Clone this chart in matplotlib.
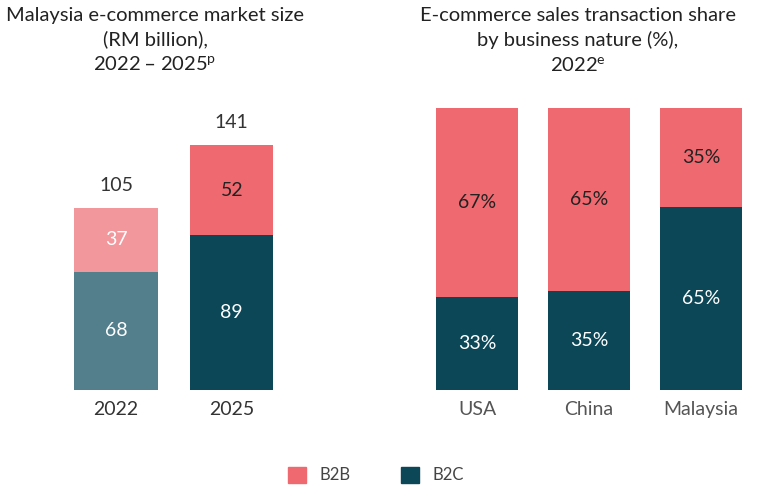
import numpy as np
import matplotlib
matplotlib.use("Agg")
import matplotlib.pyplot as plt
from matplotlib.patches import Patch

plt.rcParams['font.family'] = ['Lato', 'DejaVu Sans']

# left panel: market size (RM billion)
years = ["2022", "2025"]
b2c_size = [68, 89]
b2b_size = [37, 52]

# right panel: share by business nature (%)
countries = ["USA", "China", "Malaysia"]
b2c_share = [33, 35, 65]
b2b_share = [67, 65, 35]

pink = "#EE6A70"
teal = "#0B4757"
pink_light = "#F2979B"
teal_light = "#527F8B"
txt = "#333333"

W, H = 768, 495
fig = plt.figure(figsize=(W / 100, H / 100), dpi=100)


def px_axes(x0, y0, x1, y1):
    return fig.add_axes([x0 / W, 1 - y1 / H, (x1 - x0) / W, (y1 - y0) / H])


# ---- left panel
ax1 = px_axes(20, 145, 300, 390)
x = np.arange(len(years))
c_b2c = [teal_light, teal]
c_b2b = [pink_light, pink]
ax1.bar(x, b2c_size, width=0.72, color=c_b2c)
ax1.bar(x, b2b_size, bottom=b2c_size, width=0.72, color=c_b2b)
for i in range(len(years)):
    ax1.text(x[i], b2c_size[i] / 2, str(b2c_size[i]), ha="center", va="center",
             color="white", fontsize=14)
    ax1.text(x[i], b2c_size[i] + b2b_size[i] / 2, str(b2b_size[i]), ha="center",
             va="center", color="white" if i == 0 else "#222222", fontsize=14)
    total = b2c_size[i] + b2b_size[i]
    ax1.text(x[i], total + 8, str(total), ha="center", va="bottom", color=txt, fontsize=14)
ax1.set_xlim(-0.83, 1.59)
ax1.set_ylim(0, 141)
ax1.set_xticks(x)
ax1.set_xticklabels(years, fontsize=14, color=txt)
ax1.tick_params(length=0, pad=8, left=False, labelleft=False)
for s in ax1.spines.values():
    s.set_visible(False)

fig.text(155 / W, 1 - 7 / H,
         "Malaysia e-commerce market size\n(RM billion),\n2022 – 2025$^{\\mathregular{p}}$",
         ha="center", va="top", fontsize=14.5, color="#222222", linespacing=1.45)

# ---- right panel
ax2 = px_axes(410, 108, 768, 390)
x2 = np.arange(len(countries))
ax2.bar(x2, b2c_share, width=0.73, color=teal)
ax2.bar(x2, b2b_share, bottom=b2c_share, width=0.73, color=pink)
for i in range(len(countries)):
    ax2.text(x2[i], b2c_share[i] / 2, f"{b2c_share[i]}%", ha="center", va="center",
             color="white", fontsize=14)
    ax2.text(x2[i], b2c_share[i] + b2b_share[i] / 2, f"{b2b_share[i]}%", ha="center",
             va="center", color="#222222", fontsize=14)
ax2.set_xlim(-0.6, 2.6)
ax2.set_ylim(0, 100)
ax2.set_xticks(x2)
ax2.set_xticklabels(countries, fontsize=14, color="#555555")
ax2.tick_params(length=0, pad=8, left=False, labelleft=False)
for s in ax2.spines.values():
    s.set_visible(False)

fig.text(578 / W, 1 - 7 / H,
         "E-commerce sales transaction share\nby business nature (%),\n2022$^{\\mathregular{e}}$",
         ha="center", va="top", fontsize=14.5, color="#222222", linespacing=1.45)

handles = [Patch(color=pink, label="B2B"), Patch(color=teal, label="B2C")]
fig.legend(handles=handles, loc="center", bbox_to_anchor=(376 / W, 1 - 475 / H), ncol=2,
           frameon=False, fontsize=12, handlelength=1.1, handleheight=1.1,
           columnspacing=3, labelcolor="#444444")

fig.savefig("out.png", dpi=100)
